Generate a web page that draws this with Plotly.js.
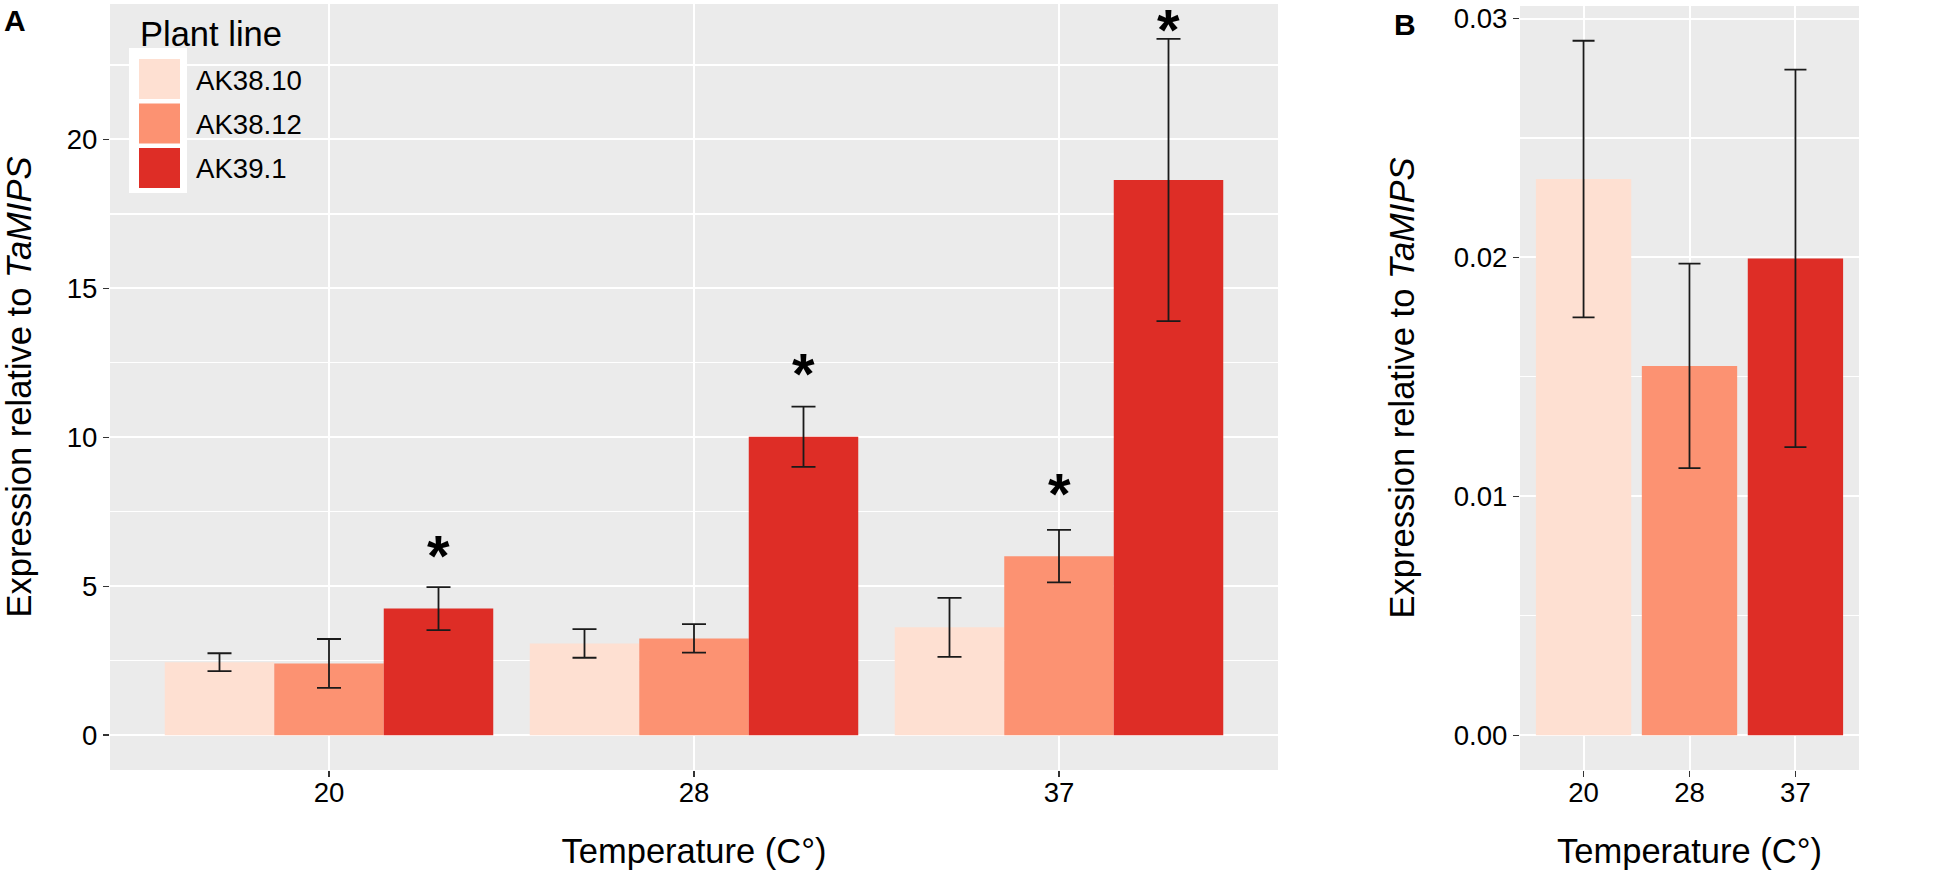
<!DOCTYPE html>
<html>
<head>
<meta charset="utf-8">
<script src="https://cdn.plot.ly/plotly-3.0.1.min.js"></script>
<style>
  html, body { margin: 0; padding: 0; background: #fff; }
  #chart { width: 1950px; height: 873px; }
</style>
</head>
<body>
<div id="chart"></div>
<script>
// Expression relative to TaMIPS, by temperature and plant line

// Categories
const temps = ['20', '28', '37'];
const lines = ['AK38.10', 'AK38.12', 'AK39.1'];
const lineColors = ['#FEE0D2', '#FC9272', '#DE2D26'];

// Panel A: means and standard errors per plant line
const ak3810Mean = [2.45, 3.08, 3.62];
const ak3810Se   = [0.30, 0.48, 0.99];
const ak3812Mean = [2.41, 3.25, 6.01];
const ak3812Se   = [0.82, 0.48, 0.88];
const ak391Mean  = [4.25, 10.02, 18.64];
const ak391Se    = [0.72, 1.01, 4.74];

// Panel A: significance marks (temperature, line, label height)
const sigTemp = ['20', '28', '37', '37'];
const sigLine = ['AK39.1', 'AK39.1', 'AK38.12', 'AK39.1'];
const sigY    = [6.33, 12.43, 8.42, 24.0];

// Panel B: one bar per temperature
const meanB = [0.02328, 0.01546, 0.01996];
const seB   = [0.00579, 0.00428, 0.0079];

const W = 1950, H = 873;
const px = x => x / W;
const py = y => 1 - y / H;

const FONT = 'Liberation Sans, Arial, Helvetica, sans-serif';
const TICK_SIZE = 27.6;
const TITLE_SIZE = 34.5;
const BARGAP = 0.1;

const meansA = [ak3810Mean, ak3812Mean, ak391Mean];
const sesA = [ak3810Se, ak3812Se, ak391Se];

// ggplot-like 5% expansion of the data range
function expandedRange(means, ses) {
    let top = 0;
    means.forEach((m, i) => { top = Math.max(top, m + ses[i]); });
    return [-0.05 * top, 1.05 * top];
}
const rangeA = expandedRange([].concat(...meansA), [].concat(...sesA));
const rangeB = expandedRange(meanB, seB);

const errStyle = { type: 'data', visible: true, color: '#1a1a1a', thickness: 1.8, width: 12 };

const data = [];

// Panel A bars
lines.forEach((line, i) => {
    data.push({
        type: 'bar',
        name: line,
        x: temps,
        y: meansA[i],
        marker: { color: lineColors[i], line: { width: 0 } },
        error_y: Object.assign({ array: sesA[i] }, errStyle),
        xaxis: 'x', yaxis: 'y',
        showlegend: false
    });
});

// Panel B bars
data.push({
    type: 'bar',
    x: temps,
    y: meanB,
    marker: { color: lineColors, line: { width: 0 } },
    error_y: Object.assign({ array: seB }, errStyle, { width: 11 }),
    xaxis: 'x2', yaxis: 'y2',
    showlegend: false
});

const axisCommon = {
    showgrid: true,
    gridcolor: '#ffffff',
    gridwidth: 2,
    zeroline: false,
    showline: false,
    ticks: 'outside',
    ticklen: 6,
    tickwidth: 1.5,
    tickcolor: '#333333',
    tickfont: { family: FONT, size: TICK_SIZE, color: '#000' },
    automargin: false
};

const xCommon = Object.assign({}, axisCommon, {
    type: 'category',
    range: [-0.6, 2.6],
    ticklabelstandoff: -8,
    title: { text: 'Temperature (C°)', font: { family: FONT, size: TITLE_SIZE, color: '#000' }, standoff: 31 }
});

const yTitle = 'Expression relative to <i>TaMIPS</i>';

const layout = {
    width: W,
    height: H,
    margin: { l: 0, r: 0, t: 0, b: 0 },
    paper_bgcolor: '#ffffff',
    plot_bgcolor: '#EBEBEB',
    barmode: 'group',
    bargap: BARGAP,
    bargroupgap: 0,
    showlegend: false,
    font: { family: FONT, color: '#000' },
    xaxis: Object.assign({}, xCommon, {
        domain: [px(110), px(1278)],
        anchor: 'y'
    }),
    yaxis: Object.assign({}, axisCommon, {
        domain: [py(770), py(4)],
        anchor: 'x',
        range: rangeA,
        tick0: 0,
        dtick: 5,
        minor: { dtick: 2.5, showgrid: true, gridcolor: '#ffffff', gridwidth: 1.2, ticks: '' },
        title: { text: yTitle, font: { family: FONT, size: TITLE_SIZE, color: '#000' }, standoff: 28 }
    }),
    xaxis2: Object.assign({}, xCommon, {
        domain: [px(1520), px(1859)],
        anchor: 'y2'
    }),
    yaxis2: Object.assign({}, axisCommon, {
        domain: [py(770), py(6)],
        anchor: 'x2',
        range: rangeB,
        tick0: 0,
        dtick: 0.01,
        tickformat: '.2f',
        minor: { dtick: 0.005, showgrid: true, gridcolor: '#ffffff', gridwidth: 1.2, ticks: '' },
        title: { text: yTitle, font: { family: FONT, size: TITLE_SIZE, color: '#000' }, standoff: 28 }
    }),
    shapes: [],
    annotations: []
};

// Asterisks over the dodged bars: category index plus the group offset
const barWidth = (1 - BARGAP) / lines.length;
sigTemp.forEach((t, k) => {
    const j = lines.indexOf(sigLine[k]);
    layout.annotations.push({
        text: '<b>*</b>',
        x: temps.indexOf(t) + (j - (lines.length - 1) / 2) * barWidth,
        y: sigY[k],
        xref: 'x', yref: 'y',
        xanchor: 'center', yanchor: 'middle', yshift: -9,
        showarrow: false,
        font: { family: FONT, size: 58, color: '#000' }
    });
});

// Panel tags
layout.annotations.push(
    { text: '<b>A</b>', x: px(2), y: py(2), xref: 'paper', yref: 'paper',
      xanchor: 'left', yanchor: 'top', showarrow: false, font: { family: FONT, size: 30, color: '#000' } },
    { text: '<b>B</b>', x: px(1405), y: py(6), xref: 'paper', yref: 'paper',
      xanchor: 'center', yanchor: 'top', showarrow: false, font: { family: FONT, size: 30, color: '#000' } }
);

// Legend drawn by hand to get ggplot-sized keys
layout.annotations.push({
    text: 'Plant line', x: px(138), y: py(34), xref: 'paper', yref: 'paper',
    xanchor: 'left', yanchor: 'middle', showarrow: false,
    font: { family: FONT, size: TITLE_SIZE, color: '#000' }
});
layout.shapes.push({
    type: 'rect', xref: 'paper', yref: 'paper',
    x0: px(129), x1: px(187), y0: py(193), y1: py(48),
    fillcolor: '#ffffff', line: { width: 0 }, layer: 'above'
});
lines.forEach((line, i) => {
    const top = 59 + i * 44.5;
    layout.shapes.push({
        type: 'rect', xref: 'paper', yref: 'paper',
        x0: px(139), x1: px(180), y0: py(top + 40), y1: py(top),
        fillcolor: lineColors[i], line: { width: 0 }, layer: 'above'
    });
    layout.annotations.push({
        text: line, x: px(194), y: py(top + 21), xref: 'paper', yref: 'paper',
        xanchor: 'left', yanchor: 'middle', showarrow: false,
        font: { family: FONT, size: TICK_SIZE, color: '#000' }
    });
});

Plotly.newPlot('chart', data, layout, { displayModeBar: false, staticPlot: true });
</script>
</body>
</html>
